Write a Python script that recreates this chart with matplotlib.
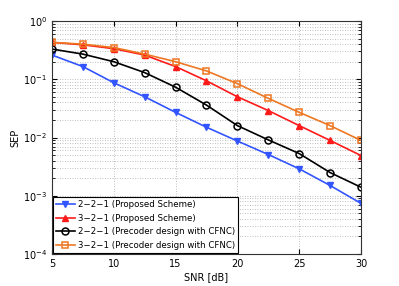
import matplotlib
matplotlib.use('Agg')
import matplotlib.pyplot as plt
import numpy as np

snr = [5, 7.5, 10, 12.5, 15, 17.5, 20, 22.5, 25, 27.5, 30]
sep_221_prop = [0.26, 0.165, 0.087, 0.050, 0.027, 0.015, 0.0087, 0.0051, 0.0029, 0.0015, 0.00074]
sep_321_prop = [0.43, 0.39, 0.335, 0.26, 0.165, 0.094, 0.050, 0.029, 0.016, 0.0089, 0.0049]
sep_221_cfnc = [0.33, 0.27, 0.20, 0.13, 0.073, 0.036, 0.016, 0.0091, 0.0053, 0.0025, 0.0014]
sep_321_cfnc = [0.43, 0.40, 0.35, 0.27, 0.20, 0.139, 0.084, 0.047, 0.027, 0.016, 0.0089]

labels = ['2\u22122\u22121 (Proposed Scheme)',
          '3\u22122\u22121 (Proposed Scheme)',
          '2\u22122\u22121 (Precoder design with CFNC)',
          '3\u22122\u22121 (Precoder design with CFNC)']

fig = plt.figure(figsize=(3.99, 2.86), dpi=100)
ax = fig.add_axes([52 / 399, 1 - 254 / 286, 309 / 399, 233 / 286])

ax.semilogy(snr, sep_221_prop, color='#3355ff', marker='v', ms=5,
            mfc='#3355ff', lw=1.2, label=labels[0])
ax.semilogy(snr, sep_321_prop, color='#ff1a1a', marker='^', ms=5,
            mfc='#ff1a1a', lw=1.2, label=labels[1])
ax.semilogy(snr, sep_221_cfnc, color='black', marker='o', ms=5,
            mfc='none', mew=1.1, lw=1.2, label=labels[2])
ax.semilogy(snr, sep_321_cfnc, color='#ee7722', marker='s', ms=4.5,
            mfc='none', mew=1.1, lw=1.2, label=labels[3])

ax.set_xlim(5, 30)
ax.set_ylim(1e-4, 1)
ax.set_xticks([5, 10, 15, 20, 25, 30])
ax.grid(True, which='major', ls=(0, (1, 2)), color='#aaaaaa', lw=0.6)
ax.grid(True, which='minor', ls=(0, (1, 2)), color='#aaaaaa', lw=0.6)
ax.tick_params(which='both', direction='in', labelsize=7, top=True, right=True)
for s in ax.spines.values():
    s.set_color('#333333')
    s.set_linewidth(0.8)

ax.set_xlabel('SNR [dB]', fontsize=7, labelpad=2)
ax.set_ylabel('SEP', fontsize=7, labelpad=2)

leg = ax.legend(loc='lower left', fontsize=6.2, borderaxespad=0.1,
                handlelength=2.2, handletextpad=0.4, labelspacing=0.55,
                borderpad=0.35, fancybox=False, framealpha=1,
                edgecolor='black')
leg.get_frame().set_linewidth(0.8)

fig.savefig('out.png', dpi=100)
